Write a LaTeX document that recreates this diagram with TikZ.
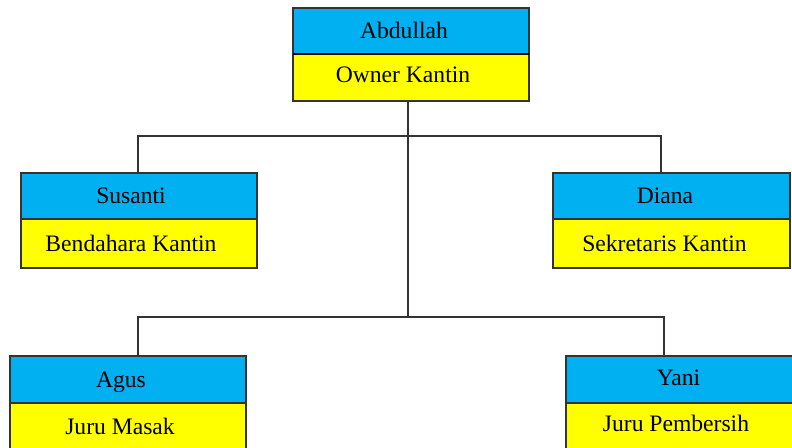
\documentclass[tikz,border=0pt]{standalone}
\usepackage{fontspec}
\setmainfont{Liberation Serif}
\definecolor{hdrblue}{HTML}{00B0F0}
\definecolor{roleyellow}{HTML}{FFFF00}
\definecolor{edge}{HTML}{333333}
\begin{document}
\begin{tikzpicture}[x=0.75pt,y=-0.75pt,
  boxbase/.style={draw=edge, line width=0.9pt, inner sep=0pt, outer sep=0pt, minimum width=177pt},
  bluebox/.style={boxbase, fill=hdrblue},
  yellowbox/.style={boxbase, fill=roleyellow},
  lbl/.style={anchor=base, inner sep=0pt, font=\fontsize{17.7}{20}\selectfont},
  conn/.style={draw=edge, line width=1.1pt}]
\useasboundingbox (0,0) rectangle (792,448);
\clip (0,0) rectangle (792,448);
% connectors
\coordinate (j1) at (408,136);
\coordinate (j2) at (408,317);
\coordinate (sTop) at (138,173);
\coordinate (dTop) at (661,173);
\coordinate (gTop) at (138,356);
\coordinate (yTop) at (664,356);
\coordinate (aBot) at (408,101);
\draw[conn] (sTop) |- (j1) -| (dTop);
\draw[conn] (gTop) |- (j2) -| (yTop);
\draw[conn] (aBot) -- (j2);
% Abdullah
\node[yellowbox, minimum height=35.25pt] (aY) at (411,77.5) {};
\node[bluebox, minimum height=34.5pt] (aB) at (411,31) {};
\draw[black, line width=1.6pt] (aB.south west) -- (aB.south east);
\node[lbl] (aN) at (404,39) {Abdullah};
\node[lbl] (aR) at (403,83) {Owner Kantin};
% Susanti
\node[yellowbox, minimum height=36.75pt] (sY) at (139,243.5) {};
\node[bluebox, minimum height=34.5pt] (sB) at (139,196) {};
\node[lbl] (sN) at (131,204) {Susanti};
\node[lbl] (sR) at (131,251.5) {Bendahara Kantin};
% Diana
\node[yellowbox, minimum height=36.75pt, minimum width=177.75pt] (dY) at (671.5,243.5) {};
\node[bluebox, minimum height=34.5pt, minimum width=177.75pt] (dB) at (671.5,196) {};
\node[lbl] (dN) at (665,204) {Diana};
\node[lbl] (dR) at (664.5,251.5) {Sekretaris Kantin};
% Agus
\node[yellowbox, minimum height=37.5pt] (gY) at (128,428) {};
\node[bluebox, minimum height=35.25pt] (gB) at (128,379.5) {};
\node[lbl] (gN) at (121,388) {Agus};
\node[lbl] (gR) at (120,435) {Juru Masak};
% Yani
\node[yellowbox, minimum height=37.5pt] (yY) at (684,428) {};
\node[bluebox, minimum height=35.25pt] (yB) at (684,379.5) {};
\node[lbl] (yN) at (678.5,386) {Yani};
\node[lbl] (yR) at (676,432) {Juru Pembersih};
\end{tikzpicture}
\end{document}
